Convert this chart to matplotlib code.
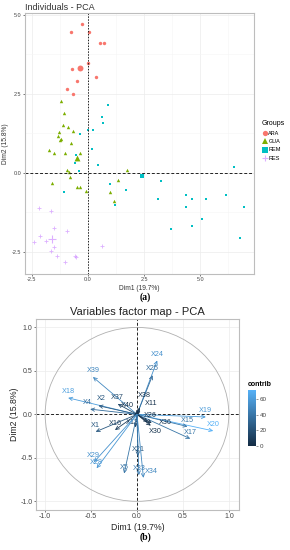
import numpy as np
import matplotlib
matplotlib.use("Agg")
import matplotlib.pyplot as plt
from matplotlib.lines import Line2D
from matplotlib.patches import Circle
from matplotlib.colors import LinearSegmentedColormap, Normalize

plt.rcParams["font.family"] = ["Liberation Sans", "DejaVu Sans"]

# ---- individuals (panel a) ----
ARA_X = [-0.28, -0.74, 0.05, 0.52, 0.70, 0.00, -0.71, 0.37, -0.48, -0.92, -0.67]
ARA_Y = [4.69, 4.46, 4.45, 4.11, 4.09, 3.48, 3.29, 3.03, 2.89, 2.65, 2.50]
GUA_X = [-1.19, -1.09, -1.12, -0.89, -0.68, -1.31, -1.34, -1.19, -1.25, -0.76,
         -1.74, -1.52, -1.01, -0.36, -0.92, -0.83, -0.80, -1.59, -0.51, -0.36,
         -0.09, 1.74, 1.35, 0.97, 1.15]
GUA_Y = [2.27, 1.88, 1.51, 1.45, 1.32, 1.30, 1.16, 1.05, 1.02, 0.93,
         0.71, 0.63, 0.61, 0.63, 0.08, 0.03, -0.14, -0.32, -0.44, -0.44,
         -0.59, 0.08, -0.24, -0.61, -0.88]
REM_X = [0.88, 0.63, 0.65, 0.21, 0.00, -0.36, 0.19, -0.54, -0.57, -0.42,
         0.46, -1.07, 0.97, 1.21, 1.70, 3.26, 3.14, 3.68, 4.38, 4.36,
         4.63, 5.27, 4.63, 5.06, 6.16, 6.50, 6.95, 6.77]
REM_Y = [2.15, 1.75, 1.57, 1.35, 1.36, 1.22, 0.74, 0.56, 0.30, 0.06,
         0.23, -0.61, -0.37, -1.01, -0.56, -0.25, -0.84, -1.77, -0.70, -1.09,
         -0.84, -0.83, -1.68, -1.46, -0.71, 0.18, -1.10, -2.07]
RES_X = [-2.20, -1.67, -1.52, -0.94, -2.13, -2.40, -1.89, -1.53, -1.65, -1.40,
         -0.58, -0.55, -1.03, 0.63]
RES_Y = [-1.12, -1.20, -1.75, -1.84, -2.00, -2.19, -2.17, -2.34, -2.49, -2.64,
         -2.62, -2.67, -2.83, -2.32]
CENTROIDS = {"ARA": (-0.36, 3.31), "GUA": (-0.49, 0.45),
             "REM": (2.40, -0.11), "RES": (-1.61, -2.11)}

# ---- variables (panel b) ----
VAR_NAMES = ["X24", "X25", "X39", "X18", "X2", "X4", "X37", "X38", "X40", "X11",
             "X19", "X20", "X15", "X17", "X1", "X16", "X13", "X26", "X36", "X30",
             "X21", "X29", "X28", "X5", "X33", "X34"]
VAR_X = [0.22, 0.17, -0.48, -0.75, -0.42, -0.51, -0.21, 0.03, 0.00, 0.03,
         0.75, 0.83, 0.55, 0.58, -0.45, -0.24, -0.02, 0.12, 0.16, 0.15,
         0.01, -0.47, -0.44, -0.14, 0.02, 0.07]
VAR_Y = [0.62, 0.45, 0.43, 0.19, 0.10, 0.06, 0.12, 0.08, 0.05, 0.04,
         -0.03, -0.19, -0.14, -0.28, -0.20, -0.18, -0.15, -0.09, -0.10, -0.13,
         -0.48, -0.55, -0.62, -0.68, -0.70, -0.73]
CONTRIB = [55, 35, 50, 62, 25, 35, 15, 5, 3, 4,
           60, 72, 40, 40, 25, 10, 10, 6, 6, 5,
           25, 55, 58, 40, 45, 50]

COLORS = {"ARA": "#F8766D", "GUA": "#7CAE00", "REM": "#00BFC4", "RES": "#C77CFF"}
MARKERS = {"ARA": "o", "GUA": "^", "REM": "s", "RES": "+"}
SIZES = {"ARA": 6, "GUA": 6, "REM": 4, "RES": 10}
GRID = "#ececec"
BORDER = "#bdbdbd"
# label nudges (points) for the crowded labels near the origin
NUDGE = {"X38": (3, 4), "X40": (-7, -1), "X11": (8, 1), "X26": (2, 0),
         "X36": (10, -4), "X30": (3, -9), "X13": (-2, -1), "X4": (-2, 0),
         "X2": (2, 1), "X33": (0, 0), "X34": (6, 0)}


def style_panel(ax, ticks, labels, fs):
    ax.set_facecolor("white")
    for s in ax.spines.values():
        s.set_color(BORDER)
        s.set_linewidth(0.8)
    ax.set_xticks(ticks)
    ax.set_yticks(ticks)
    ax.set_xticklabels(labels)
    ax.set_yticklabels(labels)
    ax.grid(True, color=GRID, linewidth=0.5)
    ax.set_axisbelow(True)
    ax.tick_params(labelsize=fs, length=1.5, width=0.5, color="#444444",
                   labelcolor="#444444", pad=1)


fig = plt.figure(figsize=(2.9, 5.5), dpi=100)

# panel a
ax1 = fig.add_axes([0.086, 0.502, 0.79, 0.475])
data = {"ARA": (ARA_X, ARA_Y), "GUA": (GUA_X, GUA_Y),
        "REM": (REM_X, REM_Y), "RES": (RES_X, RES_Y)}
for g, (xs, ys) in data.items():
    cx, cy = CENTROIDS[g]
    if MARKERS[g] == "+":
        ax1.scatter(xs, ys, s=SIZES[g], marker="+", color=COLORS[g], linewidths=0.6, alpha=0.6)
        ax1.scatter([cx], [cy], s=40, marker="+", color=COLORS[g], linewidths=0.8, alpha=0.6)
    else:
        ax1.scatter(xs, ys, s=SIZES[g], marker=MARKERS[g], color=COLORS[g], linewidths=0)
        ax1.scatter([cx], [cy], s=SIZES[g] * 3, marker=MARKERS[g], color=COLORS[g], linewidths=0)
ax1.axhline(0, color="#222222", lw=0.7, ls=(0, (3, 2)))
ax1.axvline(0, color="#222222", lw=0.7, ls=(0, (1.5, 1.5)))
ax1.set_xlim(-2.81, 7.4)
ax1.set_ylim(-3.2, 5.06)
style_panel(ax1, [-2.5, 0.0, 2.5, 5.0], ["-2.5", "0.0", "2.5", "5.0"], 4)
ax1.set_xticks([-1.25, 1.25, 3.75, 6.25], minor=True)
ax1.set_yticks([-1.25, 1.25, 3.75], minor=True)
ax1.tick_params(which="minor", length=0)
ax1.grid(True, which="minor", color="#f5f5f5", linewidth=0.4)
ax1.set_xlabel("Dim1 (19.7%)", fontsize=4.8, labelpad=2, color="#333333")
ax1.set_ylabel("Dim2 (15.8%)", fontsize=4.8, labelpad=2, color="#333333")
ax1.set_title("Individuals - PCA", fontsize=6.5, loc="left", pad=2, color="#333333")

handles = []
for g in ["ARA", "GUA", "REM", "RES"]:
    handles.append(Line2D([], [], marker=MARKERS[g], color=COLORS[g], linestyle="",
                          markersize=3.8, markeredgewidth=0.8 if g == "RES" else 0,
                          alpha=0.6 if g == "RES" else 1.0))
leg = fig.legend(handles, ["ARA", "GUA", "REM", "RES"], title="Groups",
                 loc="upper left", bbox_to_anchor=(0.895, 0.785), frameon=False,
                 fontsize=4, title_fontsize=5, handletextpad=0.2, labelspacing=0.6,
                 borderaxespad=0, handlelength=1.0)
leg._legend_box.align = "left"

fig.text(0.5, 0.459, "(a)", ha="center", va="center", fontsize=7,
         fontweight="bold", family=["Liberation Serif", "DejaVu Serif"])

# panel b
ax2 = fig.add_axes([0.124, 0.0727, 0.70, 0.347])
cmap = LinearSegmentedColormap.from_list("gg", ["#132B43", "#56B1F7"])
norm = Normalize(vmin=0, vmax=72)
ax2.add_patch(Circle((0, 0), 1.0, fill=False, color="#b0b0b0", lw=0.6))
ax2.axhline(0, color="#222222", lw=0.7, ls=(0, (3, 2)))
ax2.axvline(0, color="#222222", lw=0.7, ls=(0, (3, 2)))
for name, x, y, c in zip(VAR_NAMES, VAR_X, VAR_Y, CONTRIB):
    col = cmap(norm(c))
    ax2.annotate("", xy=(x, y), xytext=(0, 0),
                 arrowprops=dict(arrowstyle="->,head_length=0.25,head_width=0.12",
                                 color=col, lw=0.6, shrinkA=0, shrinkB=0))
    dx, dy = NUDGE.get(name, (0, 0))
    ax2.annotate(name, xy=(x, y), xytext=(dx, 2 + dy), textcoords="offset points",
                 color=col, fontsize=5.2, ha="center", va="bottom")
ax2.set_xlim(-1.10, 1.11)
ax2.set_ylim(-1.10, 1.095)
style_panel(ax2, [-1.0, -0.5, 0.0, 0.5, 1.0], ["-1.0", "-0.5", "0.0", "0.5", "1.0"], 5)
ax2.set_xlabel("Dim1 (19.7%)", fontsize=6.3, labelpad=2, color="#222222")
ax2.set_ylabel("Dim2 (15.8%)", fontsize=6.3, labelpad=1, color="#222222")
ax2.set_title("Variables factor map - PCA", fontsize=8, pad=3, color="#222222")

cax = fig.add_axes([0.855, 0.189, 0.028, 0.102])
sm = plt.cm.ScalarMappable(cmap=cmap, norm=norm)
cb = fig.colorbar(sm, cax=cax, ticks=[0, 20, 40, 60])
cb.outline.set_visible(False)
cb.ax.tick_params(labelsize=4.5, length=1.5, width=0.4, colors="#444444", pad=1)
cax.set_title("contrib", fontsize=5, fontweight="bold", pad=3, loc="left")

fig.text(0.5, 0.024, "(b)", ha="center", va="center", fontsize=7,
         fontweight="bold", family=["Liberation Serif", "DejaVu Serif"])

fig.savefig("out.png", dpi=100)
